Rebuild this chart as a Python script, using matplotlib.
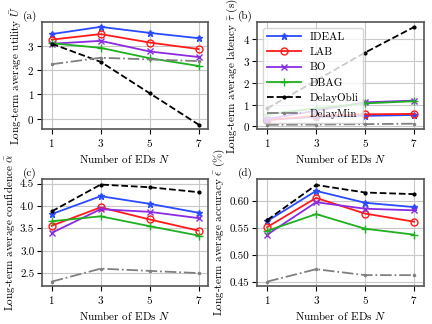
import matplotlib
matplotlib.use("Agg")
from matplotlib import pyplot as plt

plt.rcParams["font.family"] = "serif"
plt.rcParams["font.serif"] = ["cmr10"]
plt.rcParams["mathtext.fontset"] = "cm"
plt.rcParams["axes.formatter.use_mathtext"] = True
plt.rcParams["font.size"] = 8

n_eds = [1, 3, 5, 7]

utility = {
    "IDEAL": [3.5, 3.8, 3.55, 3.33],
    "LAB": [3.27, 3.5, 3.15, 2.88],
    "BO": [3.1, 3.22, 2.78, 2.55],
    "DBAG": [3.12, 2.93, 2.5, 2.18],
    "DelayObli": [3.1, 2.35, 1.05, -0.25],
    "DelayMin": [2.25, 2.52, 2.45, 2.38],
}
latency = {
    "IDEAL": [0.3, 0.43, 0.48, 0.52],
    "LAB": [0.28, 0.48, 0.55, 0.57],
    "BO": [0.33, 0.72, 1.1, 1.18],
    "DBAG": [0.55, 0.82, 1.05, 1.15],
    "DelayObli": [0.82, 2.1, 3.38, 4.55],
    "DelayMin": [0.07, 0.08, 0.1, 0.12],
}
confidence = {
    "IDEAL": [3.82, 4.22, 4.05, 3.85],
    "LAB": [3.56, 3.97, 3.7, 3.45],
    "BO": [3.4, 3.93, 3.87, 3.73],
    "DBAG": [3.66, 3.77, 3.55, 3.34],
    "DelayObli": [3.88, 4.48, 4.42, 4.31],
    "DelayMin": [2.31, 2.6, 2.55, 2.5],
}
accuracy = {
    "IDEAL": [0.563, 0.619, 0.597, 0.589],
    "LAB": [0.552, 0.606, 0.577, 0.562],
    "BO": [0.538, 0.598, 0.586, 0.583],
    "DBAG": [0.545, 0.576, 0.549, 0.538],
    "DelayObli": [0.565, 0.63, 0.616, 0.613],
    "DelayMin": [0.451, 0.474, 0.463, 0.463],
}

styles = {
    "IDEAL": dict(color="#2a4bff", marker="*", linestyle="-", markersize=5),
    "LAB": dict(color="#ff1a1a", marker="o", linestyle="-", markersize=5, markerfacecolor="none"),
    "BO": dict(color="#8a2be2", marker="x", linestyle="-", markersize=5),
    "DBAG": dict(color="#1fb01f", marker="+", linestyle="-", markersize=6),
    "DelayObli": dict(color="black", marker=".", linestyle="--", markersize=4),
    "DelayMin": dict(color="gray", marker=".", linestyle="-.", markersize=3),
}

panels = [
    (utility, r"Long-term average utility $\bar{U}$", "(a)", (-0.45, 4.0)),
    (latency, r"Long-term average latency $\bar{\tau}$ (s)", "(b)", (-0.14, 4.78)),
    (confidence, r"Long-term average confidence $\bar{\alpha}$", "(c)", (2.21, 4.61)),
    (accuracy, r"Long-term average accuracy $\bar{\epsilon}$ (%)", "(d)", (0.4427, 0.6415)),
]

fig, axes = plt.subplots(2, 2, figsize=(4.32, 3.24), dpi=100)

for ax, (data, ylabel, tag, ylim) in zip(axes.flat, panels):
    for name, vals in data.items():
        ax.plot(n_eds, vals, label=name, linewidth=1.3, **styles[name])
    ax.set_xticks(n_eds)
    ax.set_ylim(*ylim)
    ax.set_xlim(0.6, 7.4)
    ax.set_xlabel(r"Number of EDs $N$", labelpad=2)
    ax.set_ylabel(ylabel, labelpad=2)
    ax.grid(True, color="#c8c8c8", linewidth=0.8)
    for s in ax.spines.values():
        s.set_color("#555555")
        s.set_linewidth(1.2)
    ax.tick_params(pad=2)
    ax.text(-0.03, 1.0, tag, transform=ax.transAxes, ha="right", va="bottom")

axes[0, 0].set_yticks([0, 1, 2, 3])
axes[0, 1].set_yticks([0, 1, 2, 3, 4])
axes[1, 0].set_yticks([2.5, 3.0, 3.5, 4.0, 4.5])
axes[1, 0].set_yticklabels(["2.5", "3.0", "3.5", "4.0", "4.5"])
axes[1, 1].set_yticks([0.45, 0.50, 0.55, 0.60])
axes[1, 1].set_yticklabels(["0.45", "0.50", "0.55", "0.60"])

axes[0, 1].legend(loc="upper left", fontsize=8, handlelength=3, labelspacing=0.5)

plt.subplots_adjust(left=0.097, right=0.981, top=0.932, bottom=0.117, wspace=0.295, hspace=0.46)
plt.savefig("out.png")
